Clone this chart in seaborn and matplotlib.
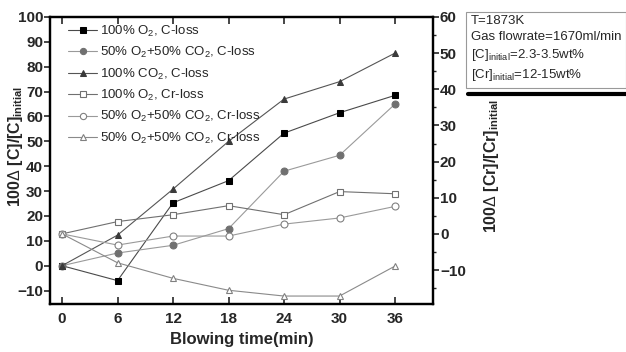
import numpy as np
import pandas as pd
import seaborn as sns
import matplotlib.pyplot as plt
from matplotlib.lines import Line2D

# blowing time (min)
time = [0, 6, 12, 18, 24, 30, 36]

# C-loss series (left axis)
o2_c = [0, -6, 25.3, 34.2, 53.3, 61.5, 68.5]
mix_c = [0, 5.1, 8.2, 14.9, 38.0, 44.4, 65.0]
co2_c = [0, 12.3, 30.8, 50.0, 67.0, 74.0, 85.5]

# Cr-loss series (right axis)
o2_cr = [0, 3.4, 5.3, 7.8, 5.3, 11.7, 11.1]
mix_cr = [0, -3.1, -0.6, -0.6, 2.7, 4.4, 7.6]
mix_cr2 = [0, -8.0, -12.3, -15.6, -17.2, -17.2, -8.9]

labels = [r"100% O$_2$, C-loss", r"50% O$_2$+50% CO$_2$, C-loss",
          r"100% CO$_2$, C-loss", r"100% O$_2$, Cr-loss",
          r"50% O$_2$+50% CO$_2$, Cr-loss", r"50% O$_2$+50% CO$_2$, Cr-loss"]

sns.set_style("ticks")
plt.rcParams['font.family'] = ['Liberation Sans', 'DejaVu Sans']
plt.rcParams['mathtext.fontset'] = 'custom'
plt.rcParams['mathtext.rm'] = 'Liberation Sans'
plt.rcParams['mathtext.bf'] = 'Liberation Sans:bold'

fig = plt.figure(figsize=(6.26, 3.52), dpi=100)
ax = fig.add_axes([50/626, 1 - 304/352, 383/626, 287/352])
ax2 = ax.twinx()

df = pd.DataFrame({"t": time, "o2_c": o2_c, "mix_c": mix_c, "co2_c": co2_c,
                   "o2_cr": o2_cr, "mix_cr": mix_cr, "mix_cr2": mix_cr2})

common = dict(linewidth=0.8, markersize=5)
sns.lineplot(data=df, x="t", y="o2_c", ax=ax, color="#4a4a4a", marker="s",
             markerfacecolor="black", markeredgecolor="black", label=labels[0], **common)
sns.lineplot(data=df, x="t", y="mix_c", ax=ax, color="#9a9a9a", marker="o",
             markerfacecolor="#707070", markeredgecolor="#707070", label=labels[1], **common)
sns.lineplot(data=df, x="t", y="co2_c", ax=ax, color="#555555", marker="^",
             markerfacecolor="#3a3a3a", markeredgecolor="#3a3a3a", label=labels[2], **common)
sns.lineplot(data=df, x="t", y="o2_cr", ax=ax2, color="#707070", marker="s",
             markerfacecolor="white", markeredgecolor="#707070", markeredgewidth=0.8,
             label=labels[3], **common)
sns.lineplot(data=df, x="t", y="mix_cr", ax=ax2, color="#9a9a9a", marker="o",
             markerfacecolor="white", markeredgecolor="#808080", markeredgewidth=0.8,
             label=labels[4], **common)
sns.lineplot(data=df, x="t", y="mix_cr2", ax=ax2, color="#8a8a8a", marker="^",
             markerfacecolor="white", markeredgecolor="#808080", markeredgewidth=0.8,
             label=labels[5], **common)

ax.set_xlim(-1.3, 40.1)
ax.set_ylim(-15.4, 100)
ax2.set_ylim(-19.4, 60)
ax.set_xticks(time)
ax.set_yticks(np.arange(-10, 101, 10))
ax2.set_yticks(np.arange(-10, 61, 10))
ax2.set_yticks(np.arange(-15, 60, 5), minor=True)

for a in (ax, ax2):
    for s in a.spines.values():
        s.set_visible(True)
        s.set_linewidth(1.6)
        s.set_color("black")

ax.tick_params(axis="x", direction="in", top=True, length=5, width=1.2, labelsize=11, pad=6)
ax.tick_params(axis="y", direction="out", length=4, width=1.2, labelsize=11, pad=1)
ax2.tick_params(axis="y", which="major", direction="out", length=4, width=1.2, labelsize=11, pad=1)
ax2.tick_params(axis="y", which="minor", direction="out", length=2.5, width=1.0)
for lab in ax.get_xticklabels() + ax.get_yticklabels() + ax2.get_yticklabels():
    lab.set_fontweight("bold")

ax.set_xlabel("Blowing time(min)", fontsize=12, fontweight="bold", labelpad=4)
ax.set_ylabel(r"100$\Delta$ [C]/[C]$_{\mathbf{initial}}$", fontsize=11.5, fontweight="bold")
ax.yaxis.set_label_coords(-0.065, 0.55)
ax2.set_ylabel(r"100$\Delta$ [Cr]/[Cr]$_{\mathbf{initial}}$", fontsize=11.5, fontweight="bold",
               rotation=90)
ax2.yaxis.set_label_coords(1.128, 0.48)

h1, l1 = ax.get_legend_handles_labels()
h2, l2 = ax2.get_legend_handles_labels()
ax.get_legend().remove()
ax2.legend(h1 + h2, l1 + l2, loc="upper left", bbox_to_anchor=(0.03, 1.0),
           frameon=False, fontsize=9.5, handlelength=2.2, handletextpad=0.2,
           labelspacing=0.48, borderaxespad=0.1, markerscale=0.9)

fig.text(471/626, 1 - 15/352,
         "T=1873K\nGas flowrate=1670ml/min\n"
         r"[C]$_{\mathrm{initial}}$=2.3-3.5wt%" "\n"
         r"[Cr]$_{\mathrm{initial}}$=12-15wt%",
         fontsize=9.5, va="top", ha="left", linespacing=1.4,
         bbox=dict(boxstyle="square,pad=0.35", facecolor="white", edgecolor="#999999", linewidth=0.8))
fig.add_artist(Line2D([468/626, 1.0], [1 - 94/352, 1 - 94/352], color="black", linewidth=3,
                      transform=fig.transFigure))

fig.savefig("out.png", dpi=100)
